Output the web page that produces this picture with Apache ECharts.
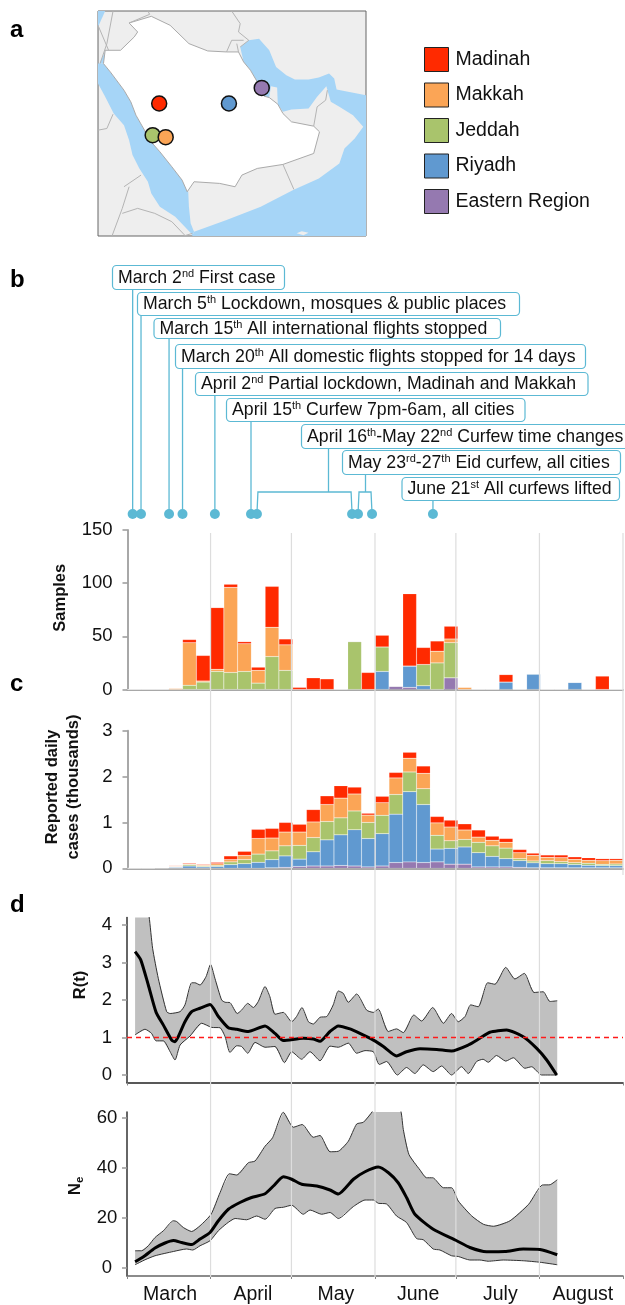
<!DOCTYPE html>
<html><head><meta charset="utf-8">
<style>html,body{margin:0;padding:0;background:#fff}#c{width:625px;height:1305px}</style>
<script src="https://cdn.jsdelivr.net/npm/echarts@6/dist/echarts.min.js"></script>
</head><body><div id="c"></div>
<script>
// ---------- data ----------
const legendOrder = ['Madinah','Makkah','Jeddah','Riyadh','Eastern Region'];
const bins = ['Mar 1','Mar 6','Mar 11','Mar 16','Mar 21','Mar 26','Apr 1','Apr 6','Apr 11','Apr 16','Apr 21','Apr 26','May 1','May 6','May 11','May 16','May 21','May 26','Jun 1','Jun 6','Jun 11','Jun 16','Jun 21','Jun 26','Jul 1','Jul 6','Jul 11','Jul 16','Jul 21','Jul 26','Aug 1','Aug 6','Aug 11','Aug 16','Aug 21','Aug 26'];
// panel b: samples
const samplesEastern = [0,0,0,0,0,0,0,0,0,0,0,0,0,0,0,0,0,0,0,3,2,0,0,11,0,0,0,0,0,0,0,0,0,0,0,0];
const samplesRiyadh  = [0,0,0,0,0,0,0,0,0,0,0,0,0,0,0,0,0,0,17,0,20,3.5,0,0,0,0,0,7,0,14.5,0,0,6.6,0,0,0];
const samplesJeddah  = [0,0,0,0,4,7,17,16,17,6,31,18,0,0,0,0,45,0,23,0,0,20,25,33,0,0,0,0,0,0,0,0,0,0,0,0];
const samplesMakkah  = [0,0,0,1,40,1,2,80,26,12,27.5,24,0,0,0,0,0,0,0,0,0,0,11,3.5,2,0,0,0,0,0,0,0,0,0,0,0];
const samplesMadinah = [0,0,0,0,3,24,58,3,2,3,38.5,5.5,2,11,10,0,0,16,11,0,68,16,9.6,12,0,0,0,7,0,0,0,0,0,0,12.6,0];
// panel c: reported daily cases (thousands)
const casesEastern = [0,0,0,0,0,0,0,0,0,0,.01,.02,.04,.05,.05,.06,.05,.03,.05,.125,.14,.125,.14,.09,.09,.03,.03,.03,.02,.01,.01,.01,.01,.01,.01,.01];
const casesRiyadh  = [0,0,.005,.02,.05,.03,.04,.08,.10,.13,.18,.25,.16,.31,.57,.67,.79,.62,.705,1.055,1.53,1.265,.28,.345,.375,.31,.23,.18,.147,.11,.09,.09,.07,.055,.048,.048];
const casesJeddah  = [0,0,.003,.01,.03,.02,.025,.06,.09,.18,.19,.22,.30,.31,.40,.37,.41,.35,.40,.43,.43,.345,.30,.165,.165,.227,.23,.23,.043,.04,.067,.045,.043,.045,.029,.036];
const casesMakkah  = [0,0,.004,.015,.015,.02,.035,.05,.09,.34,.28,.30,.29,.34,.37,.43,.37,.16,.275,.36,.30,.335,.27,.30,.205,.113,.12,.127,.13,.123,.073,.087,.073,.064,.08,.08];
const casesMadinah = [.005,.005,.008,.013,.02,.017,.03,.08,.09,.20,.21,.21,.17,.27,.19,.27,.15,.04,.14,.12,.13,.16,.14,.15,.135,.155,.09,.083,.07,.047,.05,.058,.054,.056,.043,.036];
// panel d: [days since March 1, value]
const rtMedian = [[3,3.29],[5.1,3.07],[7.9,2.4],[10.8,1.67],[13.5,1.33],[16.6,.93],[17.8,.89],[19,1.02],[21.5,1.42],[24,1.69],[27.1,1.78],[30.8,1.88],[33.9,1.56],[37.6,1.26],[40.7,1.22],[45,1.16],[51.2,1.31],[54.9,1.11],[58,.92],[65.4,.98],[69.1,.96],[71.6,.9],[75.3,1.16],[78.4,1.31],[82.7,1.23],[86.4,1.11],[91.4,.93],[95.1,.76],[100,.51],[103.7,.62],[108.7,.70],[114.9,.68],[120.4,.64],[126.6,.8],[130.9,.98],[134.6,1.14],[140.8,1.2],[147,1.02],[152,.71],[155.7,.4],[159.4,0]];
const rtUpper = [[3,6.5],[8.2,4.22],[9.5,3.38],[11.6,2.58],[14.7,1.69],[16,1.64],[19.7,1.69],[21.5,1.87],[24,2.46],[25.2,2.46],[27.1,2.4],[29.3,2.62],[31,2.95],[32.6,2.58],[35.1,2.0],[36.4,1.94],[38.2,1.93],[40.9,1.64],[42.5,1.73],[44.8,1.91],[46.9,1.8],[48.7,1.96],[51.2,2.36],[53,2.09],[54.9,1.62],[58,1.67],[61.1,1.42],[62.9,1.56],[64.9,1.8],[67.3,1.42],[69.1,1.36],[71.6,1.54],[74.1,1.56],[76.5,1.87],[78.4,2.24],[80.2,2.18],[82.1,1.94],[85.2,2.16],[88.9,1.73],[91.4,1.67],[93.2,1.76],[96.9,1.16],[100,1.23],[102.5,1.13],[106.4,1.6],[109.3,1.44],[113.4,1.8],[117.4,1.38],[120.4,1.64],[122.9,1.42],[125.4,1.56],[127.5,1.87],[130.3,1.82],[133.8,2.46],[136.5,2.42],[140.5,2.87],[143.9,2.56],[147.4,2.71],[151,2.2],[154.4,2.22],[156.9,1.96],[159.6,1.98]];
const rtLower = [[3,1.07],[6.7,1.22],[9.1,1.11],[10.8,.91],[13.5,.91],[16,.62],[17.8,.4],[19.7,.8],[23.4,1.04],[27.7,1.38],[31.4,1.27],[34.5,1.26],[36.4,1.02],[38.2,.6],[40.7,.78],[42.5,.76],[44.8,.58],[47.5,.87],[51.2,.74],[54.9,.76],[58.4,.33],[61.1,.62],[64.8,.42],[67.9,.62],[71.6,.38],[75.3,.77],[78.4,.74],[82.1,.85],[85.2,.58],[88.3,.65],[91.4,.62],[93.6,.28],[96.3,.36],[100.3,0],[103.7,.2],[106.8,.04],[109.9,.27],[113.6,.09],[116.7,.24],[120.4,0],[124.1,.22],[126.6,.04],[129.7,.36],[132.1,.42],[134,.34],[137.1,.52],[140.5,.37],[143.3,.46],[147.6,.18],[150.1,.22],[153.8,0],[159.6,0]];
const rtThreshold = [[0,1],[184,1]];
const neMedian = [[3,2.5],[6.1,4.5],[10.4,8],[14.1,10],[17.2,11],[20.3,10.2],[24,9.4],[27.1,11.6],[30.8,14.2],[33.9,18.9],[37.6,23.5],[41.9,26.2],[46.2,28.2],[51.2,29.7],[54.3,32.8],[58,36.5],[61.1,35.5],[64.8,33.5],[70.4,32.8],[75.3,31.2],[78.4,29.6],[84,35.5],[88.3,38.5],[93.2,40.4],[97,38.1],[100.6,34.1],[103.7,28.2],[106.8,21.5],[113.6,15.5],[122.3,10.9],[127.2,8.2],[133.4,6.5],[140.2,6.6],[147,7.6],[153.2,7.4],[159.6,5.3]];
const neUpper = [[3,6.9],[5.4,6.9],[7.9,8.9],[10.4,12.2],[13.5,14.9],[17.2,18.9],[18.4,18.6],[20.9,16.2],[24,14.6],[27.1,16.9],[31.2,21.5],[34.5,30.1],[38,37.7],[40.7,37.2],[45,42.1],[47.5,42.8],[51.2,48.7],[54,52.1],[58,62.3],[61.7,56.3],[65,57.4],[69.1,52.3],[71.6,53],[75.3,46.5],[78.4,46.7],[82.1,50.7],[85.2,57.6],[87.7,58.3],[91.1,62.7],[94,68],[99,68],[101.6,62.7],[102.5,55.4],[104.6,45.4],[108.7,39.2],[111.1,36.1],[113.4,36.1],[117.4,32.1],[120.4,32.1],[122.9,26.8],[127.9,20.8],[132.2,17.5],[135.9,16.7],[142.1,18.9],[149,25.5],[154.1,33.2],[156.9,33.3],[159.6,35.3]];
const neLower = [[3,1.3],[6.7,3.3],[10.4,4.9],[17.2,6.6],[22.1,7.6],[24.4,7.2],[27.1,8.9],[30.8,10.9],[33.9,14.9],[37,17.8],[40.1,19.8],[44.4,19.3],[48.1,20.8],[51.2,19.5],[54.9,23.8],[58,24.3],[61.1,25.1],[65.4,21.5],[67.9,23.2],[72.2,21.5],[75.3,22.2],[78.4,19.8],[84,24.6],[88.3,27.2],[91.4,27.2],[93.2,25.9],[96.3,25.6],[100,20.8],[103.7,18.2],[107.4,11.8],[109.9,11.3],[113.6,7.6],[116.1,7.2],[120.4,4.9],[122.9,4.6],[127.2,3.2],[130.9,3.2],[134,2.7],[139.6,3.2],[147,2.9],[153.2,2.3],[159.6,1.3]];
const monthEdges = [0,31,61,92,122,153,184];
const monthMids = [16,46.7,77.5,108,138.5,169.1];
const monthNames = ['March','April','May','June','July','August'];
// interventions
const eventLabels = [
 'March 2{sup|nd} First case',
 'March 5{sup|th} Lockdown, mosques & public places',
 'March 15{sup|th} All international flights stopped',
 'March 20{sup|th} All domestic flights stopped for 14 days',
 'April 2{sup|nd} Partial lockdown, Madinah and Makkah',
 'April 15{sup|th} Curfew 7pm-6am, all cities',
 'April 16{sup|th}-May 22{sup|nd} Curfew time changes',
 'May 23{sup|rd}-27{sup|th} Eid curfew, all cities',
 'June 21{sup|st} All curfews lifted'];
const eventDays = [2.1,5.2,15.6,20.6,32.6,46,48.2,83.5,85.7,90.9,113.5];
const eventDotsOfLabel = [[0],[1],[2],[3],[4],[5],[6,7],[8,9],[10]];
// map sites (in map frame units)
const siteNames = ['Madinah','Riyadh','Eastern Region','Jeddah','Makkah'];
const sitePos = [[203,310],[407,310],[503,263],[184,405],[222,411]];
// map shapes (in map frame units)
const seaGulf = [[440,140],[465,120],[495,115],[525,150],[545,200],[575,225],[600,238],[640,238],[670,232],[700,220],[715,235],[722,268],[808,285],[808,708],[300,708],[305,695],[400,660],[500,620],[595,570],[670,535],[730,490],[745,445],[775,415],[800,380],[770,345],[730,320],[705,305],[698,280],[692,258],[665,290],[640,325],[590,328],[565,335],[550,312],[548,262],[530,258],[525,292],[510,288],[490,245],[470,210],[450,185]];
const seaRed = [[24,190],[40,190],[60,215],[100,270],[120,305],[135,345],[160,390],[175,420],[205,455],[240,500],[270,540],[288,575],[290,620],[295,670],[305,695],[300,708],[296,700],[250,650],[205,620],[180,580],[170,545],[145,505],[125,465],[115,420],[100,375],[70,340],[45,290],[24,250]];
const seaAqaba = [[24,32],[45,32],[24,80]];
const seaSuez = [[28,190],[48,148],[40,190]];
const saudi = [[45,150],[90,150],[130,110],[140,95],[115,68],[180,48],[235,75],[290,130],[345,152],[400,155],[435,155],[450,185],[470,210],[490,245],[510,288],[525,292],[550,312],[565,340],[590,365],[655,378],[672,395],[655,460],[565,493],[490,505],[445,525],[425,560],[380,550],[305,545],[285,575],[270,540],[240,500],[205,455],[175,420],[160,390],[135,345],[120,305],[100,270],[60,215],[40,190]];
const socotra = [[605,700],[620,694],[640,698],[625,706]];
const borders = [
 [[68,32],[50,130],[30,190]],[[24,75],[55,150]],[[115,68],[175,42],[170,32]],
 [[415,32],[440,70],[435,95],[465,120],[440,140]],[[400,155],[415,120],[450,120]],[[430,130],[435,155]],
 [[655,378],[665,320],[690,300],[695,270]],[[565,493],[597,568]],
 [[24,390],[50,385],[68,342]],[[100,560],[150,525]],[[115,560],[95,625],[65,708]],
 [[95,640],[140,625],[190,640],[240,665],[280,708]],[[275,708],[300,700]]];

// ---------- styles / layout ----------
const FONT = '"Liberation Sans", Arial, sans-serif';
const C = {Madinah:'#ff2a00',Makkah:'#fba556',Jeddah:'#a9c46c',Riyadh:'#6099d0','Eastern Region':'#9579b0'};
const TEAL = '#5cb9d4';
const boxes = [[112,265,172,24],[137,292,382,23],[153.5,318,346.5,20],[175,344,410,24],[195,372,392.5,23],[226,398,298.5,23],[301,424,330,24],[342,450,278,24],[401.5,477,217.5,23]];
const stems = [null,null,null,null,null,null,{x:328.5,y:492},{x:365.5,y:492},null];
const BANDGREY = '#c0c0c0';

const grids = [
 {left:98,top:11,width:268,height:225,show:true,backgroundColor:'#eeeeee',borderColor:'#666',borderWidth:1},
 {left:127,top:504,width:496,height:20},
 {left:127.5,top:530,width:495.5,height:159.5},
 {left:127.5,top:730.7,width:495.5,height:137.6},
 {left:127,top:917.5,width:496,height:165},
 {left:127,top:1112,width:496,height:165},
 {left:127,top:533,width:496,height:744}
];
const xAxes = [
 {gridIndex:0,type:'value',min:24,max:808,show:false},
 {gridIndex:1,type:'value',min:0,max:184,show:false},
 {gridIndex:2,type:'category',data:bins,axisTick:{show:false},axisLabel:{show:false},axisLine:{lineStyle:{color:'#a8a8a8',width:2}}},
 {gridIndex:3,type:'category',data:bins,axisTick:{show:false},axisLabel:{show:false},axisLine:{lineStyle:{color:'#a8a8a8',width:2}}},
 {gridIndex:4,type:'value',min:0,max:184,splitLine:{show:false},
  axisLine:{onZero:false,lineStyle:{color:'#222',width:1.5}},axisTick:{customValues:monthEdges,length:3,lineStyle:{color:'#888'}},axisLabel:{show:false}},
 {gridIndex:5,type:'value',min:0,max:184,splitLine:{show:false},
  axisLine:{onZero:false,lineStyle:{color:'#666',width:1.5}},axisTick:{customValues:monthEdges,length:3,lineStyle:{color:'#888'}},
  axisLabel:{customValues:monthMids,formatter:v=>monthNames[monthMids.indexOf(v)],color:'#111',fontSize:19.5,fontFamily:FONT,margin:9,hideOverlap:false}},
 {gridIndex:6,type:'value',min:0,max:184,show:false}
];
function yAx(i,o,name,gap,shift,dark,labelOpt){
 return Object.assign({gridIndex:i,type:'value',splitLine:{show:false},
  axisLine:{show:true,onZero:false,lineStyle:{color:dark?'#333':'#a8a8a8',width:dark?1.5:2}},
  axisTick:{show:true,length:5,lineStyle:{color:'#999',width:1.5}},
  axisLabel:Object.assign({color:'#111',fontSize:18.5,fontFamily:FONT,margin:15},labelOpt||{}),
  name:name,nameLocation:'middle',nameRotate:90,nameGap:gap,
  nameTextStyle:{color:'#111',fontWeight:'bold',fontSize:16.5,fontFamily:FONT,lineHeight:21,padding:[0,0,0,shift],
   rich:{b:{fontWeight:'bold',fontSize:17,fontFamily:FONT,color:'#111'},sub:{fontWeight:'bold',fontSize:11.5,fontFamily:FONT,color:'#111',verticalAlign:'bottom'}}}},o);
}
const rTicks=[0,1,2,3,4], nTicks=[0,20,40,60];
const yAxes = [
 {gridIndex:0,type:'value',min:32,max:708,inverse:true,show:false},
 {gridIndex:1,type:'value',min:-1,max:1,show:false},
 yAx(2,{min:0,max:150,interval:50},'Samples',53.5,24),
 yAx(3,{min:0,max:3,interval:1},'Reported daily\ncases (thousands)',44,25),
 (()=>{const a=yAx(4,{min:-0.2,max:4.2},'R(t)',33.5,30,true);a.axisTick.customValues=rTicks;a.axisLabel.customValues=rTicks;return a;})(),
 (()=>{const a=yAx(5,{min:-3.2,max:62.4},'{b|N}{sub|e}',31,16,true,{align:'center',margin:20});a.axisTick.customValues=nTicks;a.axisLabel.customValues=nTicks;return a;})(),
 {gridIndex:6,type:'value',min:0,max:1,show:false}
];

function stackBars(name,vals,ax,stack){
 return {type:'bar',name:name,data:vals,xAxisIndex:ax,yAxisIndex:ax,stack:stack,barWidth:'100%',barGap:0,
  itemStyle:{color:C[name],borderColor:'rgba(255,255,255,0.25)',borderWidth:0.5},emphasis:{disabled:true},animation:false,z:2};
}
const mapFills = [
 {pts:seaGulf,fill:'#a6d5f7',stroke:null},{pts:seaRed,fill:'#a6d5f7',stroke:null},{pts:seaAqaba,fill:'#a6d5f7',stroke:null},{pts:seaSuez,fill:'#a6d5f7',stroke:null},
 {pts:saudi,fill:'#ffffff',stroke:'#aaaaaa'},{pts:socotra,fill:'#eeeeee',stroke:null}];
const series = [
 {type:'custom',name:'map',xAxisIndex:0,yAxisIndex:0,silent:true,clip:true,animation:false,z:1,
  data:mapFills.map((_,i)=>[i]),
  renderItem:(p,api)=>{const m=mapFills[api.value(0)];
   return {type:'polygon',shape:{points:m.pts.map(q=>api.coord(q))},style:{fill:m.fill,stroke:m.stroke||'none',lineWidth:1}};}},
 {type:'custom',name:'borders',xAxisIndex:0,yAxisIndex:0,silent:true,clip:true,animation:false,z:1,
  data:borders.map((_,i)=>[i]),
  renderItem:(p,api)=>({type:'polyline',shape:{points:borders[api.value(0)].map(q=>api.coord(q))},style:{fill:'none',stroke:'#b4b4b4',lineWidth:1}})},
 {type:'scatter',name:'sites',xAxisIndex:0,yAxisIndex:0,symbolSize:15,z:3,animation:false,silent:true,
  data:sitePos.map((q,i)=>({value:q,itemStyle:{color:C[siteNames[i]],borderColor:'#111',borderWidth:1.5,opacity:1}}))},
 // events
 {type:'custom',name:'events',xAxisIndex:1,yAxisIndex:1,silent:true,clip:false,animation:false,z:5,
  data:eventLabels.map((_,i)=>[i]),
  renderItem:(p,api)=>{const i=api.value(0),b=boxes[i],st=stems[i],kids=[];
   const pts=eventDotsOfLabel[i].map(k=>api.coord([eventDays[k],0]));
   const line=(a)=>kids.push({type:'polyline',shape:{points:a},style:{fill:'none',stroke:TEAL,lineWidth:1.3}});
   if(st){line([[st.x,b[1]+b[3]],[st.x,st.y]]);
    line([[pts[0][0],pts[0][1]],[pts[0][0]+1,st.y],[pts[1][0]-1,st.y],[pts[1][0],pts[1][1]]]);}
   else line([[pts[0][0],b[1]+b[3]],pts[0]]);
   pts.forEach(q=>kids.push({type:'circle',shape:{cx:q[0],cy:q[1],r:5},style:{fill:TEAL}}));
   kids.push({type:'rect',shape:{x:b[0]+.5,y:b[1]+.5,width:b[2],height:b[3],r:4},style:{fill:'#fff',stroke:TEAL,lineWidth:1.2}});
   kids.push({type:'text',style:{x:b[0]+6,y:b[1]+b[3]/2+1,text:eventLabels[i],fill:'#111',fontSize:17.7,fontFamily:FONT,lineHeight:20,verticalAlign:'middle',align:'left',
     rich:{sup:{fontSize:11,fontFamily:FONT,fill:'#111',verticalAlign:'top',lineHeight:11}}}});
   return {type:'group',children:kids};}},
 // panel b, c
 stackBars('Eastern Region',samplesEastern,2,'s'),stackBars('Riyadh',samplesRiyadh,2,'s'),stackBars('Jeddah',samplesJeddah,2,'s'),stackBars('Makkah',samplesMakkah,2,'s'),stackBars('Madinah',samplesMadinah,2,'s'),
 stackBars('Eastern Region',casesEastern,3,'c'),stackBars('Riyadh',casesRiyadh,3,'c'),stackBars('Jeddah',casesJeddah,3,'c'),stackBars('Makkah',casesMakkah,3,'c'),stackBars('Madinah',casesMadinah,3,'c')
];
function bandSeries(ax,upper,median,lower){
 return [
  {type:'custom',xAxisIndex:ax,yAxisIndex:ax,clip:true,silent:true,animation:false,z:2,data:[[0]],
   renderItem:(p,api)=>{const pts=upper.concat(lower.slice().reverse()).map(q=>api.coord(q));
    return {type:'polygon',shape:{points:pts},style:{fill:BANDGREY}};}},
  {type:'line',xAxisIndex:ax,yAxisIndex:ax,data:upper,smooth:.2,showSymbol:false,silent:true,animation:false,z:3,lineStyle:{color:'#333',width:1}},
  {type:'line',xAxisIndex:ax,yAxisIndex:ax,data:lower,smooth:.2,showSymbol:false,silent:true,animation:false,z:3,lineStyle:{color:'#333',width:1}},
  {type:'line',xAxisIndex:ax,yAxisIndex:ax,data:median,smooth:.2,showSymbol:false,silent:true,animation:false,z:6,lineStyle:{color:'#000',width:3}}
 ];
}
series.push(...bandSeries(4,rtUpper,rtMedian,rtLower));
series.push({type:'line',xAxisIndex:4,yAxisIndex:4,data:rtThreshold,showSymbol:false,silent:true,animation:false,z:7,itemStyle:{color:'#ff1a1a'},lineStyle:{color:'#ff1a1a',width:1.5,type:[5,4],opacity:1}});
series.push(...bandSeries(5,neUpper,neMedian,neLower));
// month separators
series.push({type:'custom',xAxisIndex:6,yAxisIndex:6,silent:true,clip:false,animation:false,z:5,
 data:monthEdges.slice(1).map(d=>[d]),
 renderItem:(p,api)=>{const d=api.value(0),a=api.coord([d,1]),b=api.coord([d,0]);
  const end=d===184?a[1]+342:b[1];
  return {type:'line',shape:{x1:a[0],y1:a[1],x2:a[0],y2:end},style:{stroke:'#dddddd',lineWidth:1.2}};}});

const option = {
 backgroundColor:'#fff',animation:false,
 grid:grids,xAxis:xAxes,yAxis:yAxes,series:series,
 legend:{data:legendOrder,orient:'vertical',left:419,top:42,itemWidth:24,itemHeight:24,itemGap:10.5,selectedMode:false,
  itemStyle:{borderColor:'#222',borderWidth:1},textStyle:{color:'#111',fontSize:19.5,fontFamily:FONT,padding:[0,0,0,2]},icon:'rect'},
 graphic:[['a',10,18],['b',10,268],['c',10,672],['d',10,893]].map(t=>({type:'text',left:t[1],top:t[2],style:{text:t[0],fontSize:24,fontWeight:'bold',fontFamily:FONT,fill:'#000'}}))
};
echarts.init(document.getElementById('c'),null,{renderer:'canvas'}).setOption(option);
</script></body></html>
